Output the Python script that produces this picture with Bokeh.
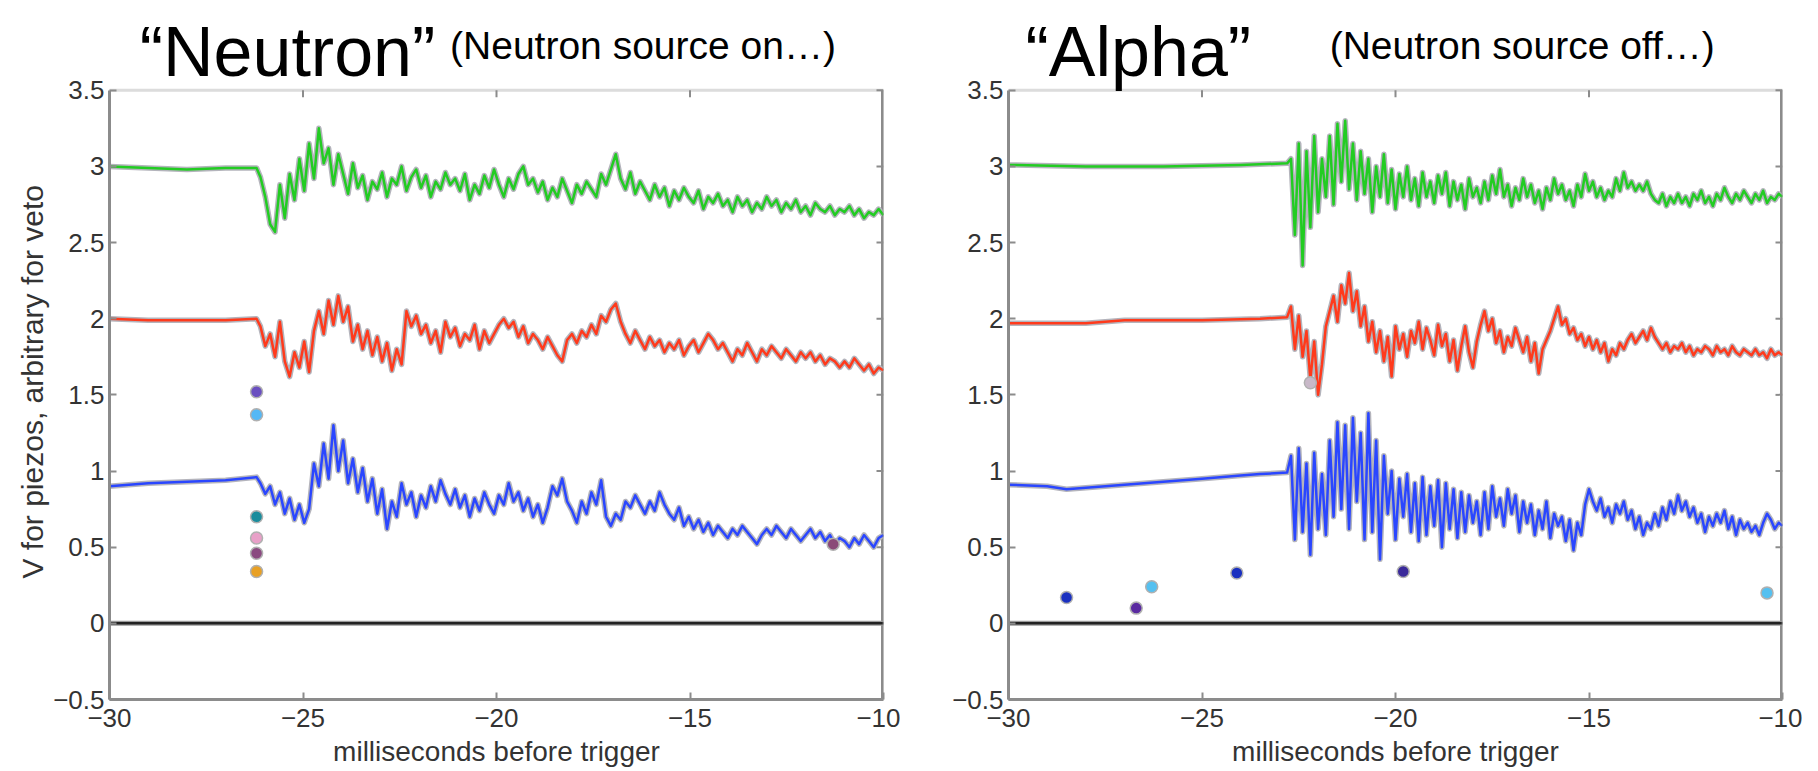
import numpy as np
from bokeh.plotting import figure
from bokeh.models import Range1d, FixedTicker, Label, BoxAnnotation, Title
from bokeh.layouts import row
from bokeh.embed import file_html
from bokeh.resources import INLINE

# ---------------- data ----------------
X_TICKS = [-30, -25, -20, -15, -10]
Y_TICKS = [-0.5, 0, 0.5, 1, 1.5, 2, 2.5, 3, 3.5]
XLABEL = "milliseconds before trigger"
YLABEL = "V for piezos, arbitrary for veto"
TITLES = ["\u201cNeutron\u201d", "\u201cAlpha\u201d"]
SUBTITLES = ["(Neutron source on\u2026)", "(Neutron source off\u2026)"]

# Left panel ("Neutron"): flat part before trigger, then noisy part
L_FLAT_X = [-30.0, -29.0, -28.0, -27.0, -26.2]
L_GREEN_FLAT = [3.00, 2.99, 2.98, 2.99, 2.99]
L_RED_FLAT = [2.00, 1.99, 1.99, 1.99, 2.00]
L_BLUE_FLAT = [0.90, 0.92, 0.93, 0.94, 0.96]
L_NOISE_START, L_NOISE_END = -26.1, -10.0

L_GREEN = [2.93, 2.80, 2.62, 2.57, 2.88, 2.66, 2.95, 2.78,
           3.05, 2.84, 3.15, 2.92, 3.25, 3.02, 3.12, 2.88,
           3.08, 2.95, 2.82, 3.02, 2.86, 2.94, 2.78, 2.90,
           2.85, 2.96, 2.80, 2.92, 2.88, 3.00, 2.84, 2.93,
           2.98, 2.86, 2.94, 2.80, 2.90, 2.85, 2.96, 2.88,
           2.92, 2.84, 2.95, 2.78, 2.88, 2.82, 2.94, 2.86,
           2.98, 2.88, 2.80, 2.92, 2.85, 2.95, 3.00, 2.88,
           2.92, 2.83, 2.90, 2.78, 2.86, 2.80, 2.92, 2.84,
           2.76, 2.88, 2.82, 2.90, 2.85, 2.80, 2.95, 2.88,
           2.98, 3.08, 2.92, 2.85, 2.96, 2.82, 2.90, 2.84,
           2.78, 2.88, 2.80, 2.86, 2.74, 2.84, 2.78, 2.86,
           2.80, 2.76, 2.84, 2.72, 2.80, 2.76, 2.82, 2.74,
           2.78, 2.70, 2.80, 2.74, 2.78, 2.70, 2.76, 2.72,
           2.80, 2.74, 2.78, 2.70, 2.76, 2.72, 2.78, 2.70,
           2.74, 2.68, 2.76, 2.72, 2.70, 2.74, 2.68, 2.72,
           2.70, 2.74, 2.68, 2.72, 2.66, 2.70, 2.68, 2.72,
           2.68]
L_RED = [1.95, 1.82, 1.90, 1.75, 1.98, 1.72, 1.62, 1.78,
         1.68, 1.85, 1.65, 1.92, 2.05, 1.90, 2.12, 1.96,
         2.15, 1.98, 2.08, 1.85, 1.96, 1.80, 1.92, 1.76,
         1.88, 1.72, 1.84, 1.66, 1.80, 1.70, 2.05, 1.95,
         2.02, 1.90, 1.96, 1.84, 1.92, 1.78, 1.98, 1.88,
         1.94, 1.82, 1.90, 1.86, 1.96, 1.80, 1.92, 1.84,
         1.90, 1.96, 2.00, 1.94, 1.98, 1.88, 1.95, 1.84,
         1.90, 1.86, 1.80, 1.88, 1.82, 1.76, 1.72, 1.86,
         1.90, 1.84, 1.92, 1.88, 1.96, 1.90, 2.02, 1.98,
         2.06, 2.10, 1.98, 1.90, 1.84, 1.92, 1.86, 1.80,
         1.88, 1.82, 1.86, 1.78, 1.84, 1.80, 1.86, 1.76,
         1.82, 1.86, 1.78, 1.84, 1.90, 1.86, 1.80, 1.84,
         1.78, 1.72, 1.80, 1.76, 1.84, 1.78, 1.72, 1.80,
         1.76, 1.82, 1.78, 1.74, 1.80, 1.76, 1.72, 1.78,
         1.74, 1.78, 1.72, 1.76, 1.70, 1.74, 1.72, 1.68,
         1.72, 1.68, 1.74, 1.70, 1.66, 1.70, 1.64, 1.68,
         1.66]
L_BLUE = [0.92, 0.85, 0.90, 0.78, 0.86, 0.72, 0.82, 0.68,
          0.78, 0.66, 0.75, 1.05, 0.90, 1.18, 0.95, 1.30,
          1.00, 1.20, 0.92, 1.08, 0.86, 1.02, 0.80, 0.95,
          0.72, 0.88, 0.62, 0.80, 0.70, 0.92, 0.78, 0.86,
          0.70, 0.84, 0.76, 0.90, 0.80, 0.94, 0.85, 0.78,
          0.88, 0.76, 0.84, 0.70, 0.82, 0.74, 0.86, 0.78,
          0.72, 0.84, 0.78, 0.92, 0.80, 0.86, 0.74, 0.82,
          0.70, 0.78, 0.66, 0.76, 0.90, 0.84, 0.95, 0.80,
          0.74, 0.66, 0.80, 0.72, 0.86, 0.78, 0.94, 0.70,
          0.64, 0.72, 0.68, 0.80, 0.76, 0.84, 0.78, 0.72,
          0.80, 0.74, 0.86, 0.78, 0.72, 0.68, 0.76, 0.64,
          0.70, 0.62, 0.68, 0.60, 0.66, 0.58, 0.64, 0.60,
          0.56, 0.62, 0.58, 0.64, 0.60, 0.56, 0.52, 0.58,
          0.62, 0.58, 0.64, 0.60, 0.56, 0.62, 0.58, 0.54,
          0.58, 0.62, 0.56, 0.60, 0.54, 0.58, 0.52, 0.56,
          0.54, 0.50, 0.56, 0.52, 0.58, 0.54, 0.50, 0.56,
          0.58]
L_DOT_X = [-26.2, -26.2, -26.2, -26.2, -26.2, -26.2, -11.3]
L_DOT_Y = [1.52, 1.37, 0.70, 0.56, 0.46, 0.34, 0.52]
L_DOT_C = ["#6a4fc0", "#55b8f5", "#1a8c9c", "#e8a0c8", "#8a4a80", "#e8a024", "#8a4a78"]

# Right panel ("Alpha")
R_GREEN_FLAT_X = [-30.0, -28.0, -26.0, -24.0, -22.8]
R_GREEN_FLAT = [3.01, 3.00, 3.00, 3.01, 3.02]
R_RED_FLAT_X = [-30.0, -28.0, -27.0, -25.0, -23.5, -22.8]
R_RED_FLAT = [1.97, 1.97, 1.99, 1.99, 2.00, 2.01]
R_BLUE_FLAT_X = [-30.0, -29.0, -28.5, -28.0, -27.0, -26.0, -25.0, -24.0, -23.5, -22.8]
R_BLUE_FLAT = [0.91, 0.90, 0.88, 0.89, 0.91, 0.93, 0.95, 0.97, 0.98, 0.99]
R_NOISE_START, R_NOISE_END = -22.7, -10.0

R_GREEN = [3.05, 2.55, 3.15, 2.35, 3.10, 2.60, 3.20, 2.70, 3.05, 2.80,
           3.20, 2.75, 3.28, 2.90, 3.30, 2.85, 3.15, 2.78, 3.10, 2.82,
           3.05, 2.70, 3.00, 2.80, 3.08, 2.76, 2.98, 2.72, 2.95, 2.80,
           3.00, 2.78, 2.92, 2.74, 2.96, 2.80, 2.90, 2.76, 2.94, 2.82,
           2.96, 2.74, 2.90, 2.78, 2.88, 2.72, 2.92, 2.80, 2.86, 2.76,
           2.90, 2.78, 2.94, 2.82, 2.98, 2.80, 2.88, 2.74, 2.86, 2.78,
           2.92, 2.80, 2.88, 2.76, 2.84, 2.72, 2.86, 2.78, 2.92, 2.82,
           2.88, 2.78, 2.84, 2.74, 2.88, 2.80, 2.95, 2.84, 2.90, 2.80,
           2.86, 2.78, 2.84, 2.80, 2.92, 2.84, 2.96, 2.86, 2.90, 2.84,
           2.88, 2.84, 2.90, 2.82, 2.78, 2.76, 2.82, 2.74, 2.80, 2.76,
           2.82, 2.76, 2.80, 2.74, 2.82, 2.78, 2.84, 2.76, 2.80, 2.74,
           2.82, 2.78, 2.86, 2.80, 2.76, 2.82, 2.78, 2.84, 2.80, 2.76,
           2.82, 2.78, 2.84, 2.76, 2.80, 2.78, 2.82, 2.80]
R_RED = [2.08, 1.80, 2.02, 1.75, 1.92, 1.60, 1.85, 1.50, 1.70, 1.95,
         2.05, 2.15, 1.98, 2.22, 2.10, 2.30, 2.05, 2.18, 1.95, 2.08,
         1.85, 1.98, 1.78, 1.92, 1.72, 1.88, 1.62, 1.95, 1.80, 1.90,
         1.75, 1.92, 1.84, 1.98, 1.80, 1.94, 1.86, 1.76, 1.96, 1.82,
         1.90, 1.72, 1.86, 1.66, 1.82, 1.95, 1.78, 1.68, 1.85, 1.96,
         2.05, 1.92, 2.00, 1.84, 1.92, 1.78, 1.88, 1.82, 1.94, 1.86,
         1.78, 1.88, 1.72, 1.84, 1.64, 1.80, 1.86, 1.92, 2.00, 2.08,
         1.96, 2.00, 1.90, 1.94, 1.86, 1.90, 1.82, 1.88, 1.80, 1.86,
         1.78, 1.84, 1.72, 1.80, 1.76, 1.84, 1.80, 1.86, 1.90, 1.84,
         1.88, 1.92, 1.86, 1.94, 1.88, 1.84, 1.80, 1.84, 1.78, 1.82,
         1.80, 1.84, 1.78, 1.82, 1.76, 1.80, 1.78, 1.82, 1.80, 1.76,
         1.82, 1.78, 1.80, 1.76, 1.82, 1.78, 1.76, 1.80, 1.78, 1.76,
         1.80, 1.76, 1.78, 1.74, 1.80, 1.76, 1.78, 1.76]
R_BLUE = [1.10, 0.55, 1.15, 0.60, 1.05, 0.45, 1.12, 0.62, 0.98, 0.58,
          1.20, 0.70, 1.32, 0.75, 1.30, 0.62, 1.35, 0.80, 1.25, 0.55,
          1.38, 0.60, 1.20, 0.42, 1.10, 0.72, 1.00, 0.55, 0.95, 0.70,
          0.98, 0.60, 0.92, 0.54, 0.96, 0.58, 0.90, 0.64, 0.94, 0.50,
          0.92, 0.62, 0.88, 0.56, 0.86, 0.60, 0.84, 0.66, 0.80, 0.58,
          0.86, 0.62, 0.90, 0.70, 0.82, 0.64, 0.88, 0.72, 0.84, 0.60,
          0.80, 0.66, 0.78, 0.58, 0.74, 0.62, 0.80, 0.56, 0.72, 0.64,
          0.70, 0.54, 0.68, 0.48, 0.66, 0.58, 0.78, 0.88, 0.80, 0.74,
          0.82, 0.70, 0.76, 0.66, 0.78, 0.72, 0.80, 0.68, 0.74, 0.62,
          0.70, 0.58, 0.66, 0.62, 0.72, 0.64, 0.76, 0.68, 0.80, 0.72,
          0.84, 0.74, 0.80, 0.70, 0.76, 0.66, 0.72, 0.60, 0.70, 0.64,
          0.72, 0.66, 0.74, 0.62, 0.70, 0.58, 0.68, 0.62, 0.66, 0.60,
          0.64, 0.58, 0.66, 0.72, 0.68, 0.62, 0.66, 0.64]
R_DOT_X = [-28.5, -26.7, -26.3, -24.1, -19.8, -10.4, -22.2]
R_DOT_Y = [0.17, 0.10, 0.24, 0.33, 0.34, 0.20, 1.58]
R_DOT_C = ["#1a30c0", "#5a2aa0", "#55c0f0", "#1a30c0", "#3a2a9a", "#55c0f0", "#c8b8c8"]

GREEN, RED, BLUE = "#22cc22", "#ff3a1c", "#2a46ff"
HALO = "#b4b4bc"
FRAME = "#8c8c8c"
FONT = "Liberation Sans"

H = 769                 # figure height
FRAME_PX_TOP = 90       # pixel row of y=3.5 from figure top
FRAME_PX_BOTTOM = 701   # pixel row of y=-0.5
PX_PER_UNIT = (FRAME_PX_BOTTOM - FRAME_PX_TOP) / 4.0
Y_TOP = -0.5 + FRAME_PX_BOTTOM / PX_PER_UNIT   # range top so that the title area is inside
BASELINE_SHIFT = 0.39   # svg text sits ~0.39 em below the requested alphabetic baseline


def ypix(px_from_top):
    return 3.5 + (FRAME_PX_TOP - px_from_top) / PX_PER_UNIT


def trace(p, xs, ys, color):
    p.line(xs, ys, line_color=HALO, line_width=5.5, line_join="round")
    p.line(xs, ys, line_color=color, line_width=2.5, line_join="round")


def panel(width, bl, br, show_ylabel, title, sub, tx, sx):
    p = figure(width=width, height=H, x_range=Range1d(-30, -10), y_range=Range1d(-0.5, Y_TOP),
               output_backend="svg", toolbar_location=None,
               min_border_left=bl, min_border_right=br,
               min_border_top=0, min_border_bottom=H - FRAME_PX_BOTTOM)
    p.title.visible = False
    p.grid.visible = False
    p.outline_line_color = None
    for ax in (p.xaxis[0], p.yaxis[0]):
        ax.axis_line_color = FRAME
        ax.axis_line_width = 3
        ax.major_tick_in = 7
        ax.major_tick_out = 0
        ax.minor_tick_line_color = None
        ax.major_tick_line_color = FRAME
        ax.major_tick_line_width = 2
        ax.major_label_text_font = FONT
        ax.major_label_text_font_size = "26px"
        ax.major_label_text_color = "#333333"
    p.yaxis.bounds = (-0.5, 3.5)
    p.xaxis.ticker = FixedTicker(ticks=X_TICKS)
    p.yaxis.ticker = FixedTicker(ticks=Y_TICKS)
    p.xaxis.major_label_overrides = {t: str(t).replace("-", "\u2212") for t in X_TICKS}
    p.yaxis.major_label_overrides = {t: ("%g" % t).replace("-", "\u2212") for t in Y_TICKS}
    p.xaxis.major_label_standoff = 9
    p.yaxis.major_label_standoff = 5
    p.xaxis.axis_label = XLABEL
    p.xaxis.axis_label_text_font = FONT
    p.xaxis.axis_label_text_font_size = "28px"
    p.xaxis.axis_label_text_font_style = "normal"
    p.xaxis.axis_label_text_color = "#333333"
    p.xaxis.axis_label_standoff = 6
    if show_ylabel:
        # y-axis title placed along the boxed plot area (the frame also holds the titles)
        p.add_layout(Title(text=YLABEL, align="left", offset=121, standoff=4,
                           text_font=FONT, text_font_size="30px", text_font_style="normal",
                           text_color="#333333"), "left")
    # plot box
    p.add_layout(BoxAnnotation(left=-30, right=-10, bottom=-0.5, top=3.5,
                               fill_alpha=0, line_color=FRAME, line_width=3))
    p.segment(x0=[-10], y0=[-0.5], x1=[-10], y1=[3.5], line_color=FRAME, line_width=5)
    # mirrored inward ticks on the top and right edges (positions from the tick lists)
    dy = 7 / PX_PER_UNIT
    dx = 7 * 20.0 / 774
    p.segment(x0=X_TICKS[1:-1], y0=[3.5] * 3, x1=X_TICKS[1:-1], y1=[3.5 - dy] * 3,
              line_color=FRAME, line_width=2)
    p.segment(x0=[-10] * len(Y_TICKS), y0=Y_TICKS, x1=[-10 - dx] * len(Y_TICKS), y1=Y_TICKS,
              line_color=FRAME, line_width=2)
    # zero line
    p.line([-30, -10], [0, 0], line_color="#9a9a9a", line_width=5)
    p.line([-30, -10], [0, 0], line_color="#222222", line_width=2.5)
    # titles
    p.add_layout(Label(x=tx, y=ypix(79 - BASELINE_SHIFT * 70), text=title, text_align="left",
                       text_baseline="alphabetic", text_font=FONT,
                       text_font_size="70px", text_color="black"))
    p.add_layout(Label(x=sx, y=ypix(60 - BASELINE_SHIFT * 39), text=sub, text_align="left",
                       text_baseline="alphabetic", text_font=FONT,
                       text_font_size="39px", text_color="black"))
    return p


# ---------------- left panel ----------------
p1 = panel(900, 109, 17, True, TITLES[0], SUBTITLES[0], -29.22, -21.2)
xl = np.linspace(L_NOISE_START, L_NOISE_END, len(L_GREEN))
trace(p1, L_FLAT_X + list(xl), L_GREEN_FLAT + L_GREEN, GREEN)
xl = np.linspace(L_NOISE_START, L_NOISE_END, len(L_RED))
trace(p1, L_FLAT_X + list(xl), L_RED_FLAT + L_RED, RED)
xl = np.linspace(L_NOISE_START, L_NOISE_END, len(L_BLUE))
trace(p1, L_FLAT_X + list(xl), L_BLUE_FLAT + L_BLUE, BLUE)
p1.scatter(L_DOT_X, L_DOT_Y, size=12, fill_color=L_DOT_C, line_color="#b0b0b0", line_width=1.5)

# ---------------- right panel ----------------
p2 = panel(902, 108, 20, False, TITLES[1], SUBTITLES[1], -29.56, -21.7)
xr = np.linspace(R_NOISE_START, R_NOISE_END, len(R_GREEN))
trace(p2, R_GREEN_FLAT_X + list(xr), R_GREEN_FLAT + R_GREEN, GREEN)
xr = np.linspace(R_NOISE_START, R_NOISE_END, len(R_RED))
trace(p2, R_RED_FLAT_X + list(xr), R_RED_FLAT + R_RED, RED)
xr = np.linspace(R_NOISE_START, R_NOISE_END, len(R_BLUE))
trace(p2, R_BLUE_FLAT_X + list(xr), R_BLUE_FLAT + R_BLUE, BLUE)
p2.scatter(R_DOT_X, R_DOT_Y, size=12, fill_color=R_DOT_C, line_color="#b0b0b0", line_width=1.5)

layout = row(p1, p2)
open("out.html", "w").write(file_html(layout, INLINE))
